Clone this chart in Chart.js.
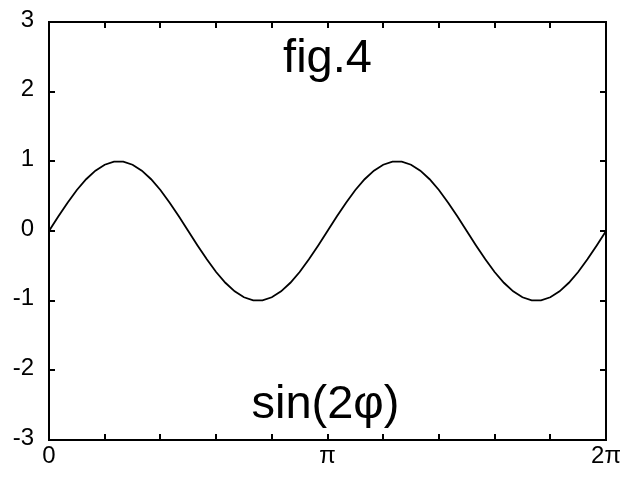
<!DOCTYPE html>
<html>
<head>
<meta charset="utf-8">
<script src="https://cdn.jsdelivr.net/npm/chart.js@4/dist/chart.umd.min.js"></script>
<style>
html,body{margin:0;padding:0;background:#fff;}
canvas{display:block;}
</style>
</head>
<body>
<canvas id="c" width="640" height="480"></canvas>
<script>
// phi in units of pi (step pi/30)
const phiValues = [0,0.0333,0.0667,0.1,0.1333,0.1667,0.2,0.2333,0.2667,0.3,0.3333,0.3667,0.4,0.4333,0.4667,0.5,
  0.5333,0.5667,0.6,0.6333,0.6667,0.7,0.7333,0.7667,0.8,0.8333,0.8667,0.9,0.9333,0.9667,1,
  1.0333,1.0667,1.1,1.1333,1.1667,1.2,1.2333,1.2667,1.3,1.3333,1.3667,1.4,1.4333,1.4667,1.5,
  1.5333,1.5667,1.6,1.6333,1.6667,1.7,1.7333,1.7667,1.8,1.8333,1.8667,1.9,1.9333,1.9667,2];
const sinValues = [0,0.208,0.407,0.588,0.743,0.866,0.951,0.995,0.995,0.951,0.866,0.743,0.588,0.407,0.208,0,
  -0.208,-0.407,-0.588,-0.743,-0.866,-0.951,-0.995,-0.995,-0.951,-0.866,-0.743,-0.588,-0.407,-0.208,0,
  0.208,0.407,0.588,0.743,0.866,0.951,0.995,0.995,0.951,0.866,0.743,0.588,0.407,0.208,0,
  -0.208,-0.407,-0.588,-0.743,-0.866,-0.951,-0.995,-0.995,-0.951,-0.866,-0.743,-0.588,-0.407,-0.208,0];
const xTickValues = [0,0.2,0.4,0.6,0.8,1,1.2,1.4,1.6,1.8,2];
const xTickLabels = ['0','','','','','π','','','','','2π'];
const yTickValues = [-3,-2,-1,0,1,2,3];
const titleText = 'fig.4';
const curveLabel = 'sin(2φ)';

const FONT = '"Liberation Sans", Arial, sans-serif';

const framePlugin = {
  id: 'frame',
  afterDatasetsDraw(chart) {
    const {ctx, chartArea: a, scales} = chart;
    ctx.save();
    ctx.strokeStyle = '#000';
    ctx.lineWidth = 2;
    ctx.strokeRect(a.left, a.top, a.right - a.left, a.bottom - a.top);
    const L = 6;
    ctx.beginPath();
    xTickValues.forEach(v => {
      const px = Math.round(scales.x.getPixelForValue(v));
      ctx.moveTo(px, a.bottom); ctx.lineTo(px, a.bottom - L);
      ctx.moveTo(px, a.top); ctx.lineTo(px, a.top + L);
    });
    yTickValues.forEach(v => {
      const py = Math.round(scales.y.getPixelForValue(v));
      ctx.moveTo(a.left, py); ctx.lineTo(a.left + L, py);
      ctx.moveTo(a.right, py); ctx.lineTo(a.right - L, py);
    });
    ctx.stroke();
    ctx.fillStyle = '#000';
    ctx.textAlign = 'center';
    ctx.textBaseline = 'alphabetic';
    ctx.font = '47px ' + FONT;
    const cx = (a.left + a.right) / 2;
    ctx.fillText(titleText, cx, scales.y.getPixelForValue(2.28));
    ctx.fillText(curveLabel, cx - 2, scales.y.getPixelForValue(-2.68));
    ctx.restore();
  }
};

new Chart(document.getElementById('c'), {
  type: 'line',
  data: {
    datasets: [{
      data: phiValues.map((p, i) => ({x: p, y: sinValues[i]})),
      borderColor: '#000',
      borderWidth: 1.8,
      pointRadius: 0,
      tension: 0,
      fill: false
    }]
  },
  options: {
    responsive: false,
    animation: false,
    layout: {padding: {top: 22, right: 34, left: 0, bottom: 0}},
    plugins: {legend: {display: false}, tooltip: {enabled: false}, title: {display: false}},
    scales: {
      x: {
        type: 'linear', min: 0, max: 2,
        afterBuildTicks(s) { s.ticks = xTickValues.map(v => ({value: v})); },
        afterFit(s) { s.height = 40; s.paddingLeft = 0; s.paddingRight = 0; },
        grid: {display: false, drawTicks: false},
        border: {display: false},
        ticks: {
          autoSkip: false, maxRotation: 0, padding: 2,
          color: '#000', font: {family: FONT, size: 24},
          callback(v, i) { return xTickLabels[i]; }
        }
      },
      y: {
        type: 'linear', min: -3, max: 3,
        afterBuildTicks(s) { s.ticks = yTickValues.map(v => ({value: v})); },
        afterFit(s) { s.width = 49; s.paddingTop = 0; s.paddingBottom = 0; },
        grid: {display: false, drawTicks: false},
        border: {display: false},
        ticks: {
          padding: 15, labelOffset: -2, color: '#000', font: {family: FONT, size: 24},
          callback(v) { return String(v); }
        }
      }
    }
  },
  plugins: [framePlugin]
});
</script>
</body>
</html>
